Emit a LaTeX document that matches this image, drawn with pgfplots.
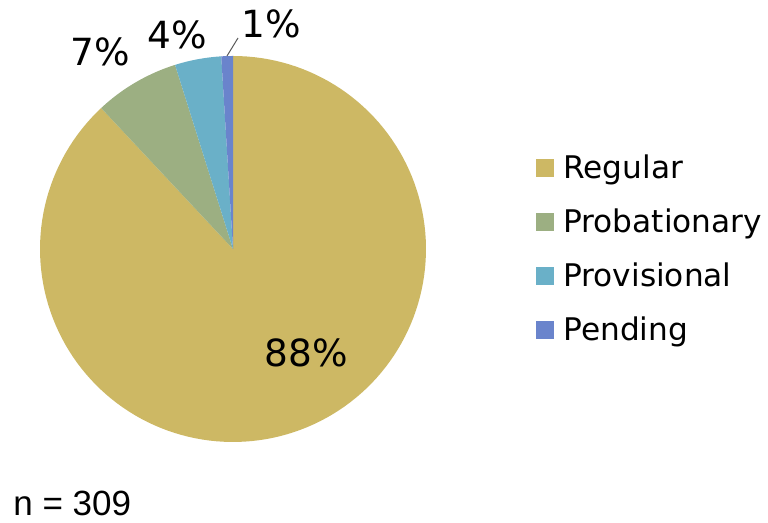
\documentclass[border=0pt]{standalone}
\usepackage{fontspec}
\setmainfont{DejaVu Sans}
\newfontfamily\arialfont{Liberation Sans}
\usepackage{pgfplots}
\pgfplotsset{compat=1.18}
\definecolor{cReg}{RGB}{205,184,100}
\definecolor{cProb}{RGB}{156,175,130}
\definecolor{cProv}{RGB}{106,176,200}
\definecolor{cPend}{RGB}{106,132,204}
% counts (n = 309)
\def\vReg{272}
\def\vProb{22}
\def\vProv{12}
\def\vPend{3}
\pgfmathsetmacro{\tot}{\vReg+\vProb+\vProv+\vPend}
\pgfmathsetmacro{\aZ}{90}
\pgfmathsetmacro{\aPend}{\aZ+\vPend/\tot*360}
\pgfmathsetmacro{\aProv}{\aPend+\vProv/\tot*360}
\pgfmathsetmacro{\aProb}{\aProv+\vProb/\tot*360}
\pgfmathsetmacro{\aReg}{\aProb+\vReg/\tot*360}
\newcommand\legtxt{\fontsize{15.6}{18}\selectfont}
\newcommand\pcttxt{\fontsize{18.7}{22}\selectfont}
\begin{document}
\begin{tikzpicture}
\begin{axis}[width=384pt,height=261.5pt,scale only axis,hide axis,
  xmin=0,xmax=768,ymin=0,ymax=523,clip=false]
\path (axis cs:0,0) rectangle (axis cs:768,523);
\addplot[fill=cReg,draw=none,domain=\aProb:\aReg,samples=150,variable=\t]
  ({233+193*cos(\t)},{274+193*sin(\t)}) -- (axis cs:233,274) -- cycle;
\addplot[fill=cProb,draw=none,domain=\aProv:\aProb,samples=30,variable=\t]
  ({233+193*cos(\t)},{274+193*sin(\t)}) -- (axis cs:233,274) -- cycle;
\addplot[fill=cProv,draw=none,domain=\aPend:\aProv,samples=20,variable=\t]
  ({233+193*cos(\t)},{274+193*sin(\t)}) -- (axis cs:233,274) -- cycle;
\addplot[fill=cPend,draw=none,domain=\aZ:\aPend,samples=10,variable=\t]
  ({233+193*cos(\t)},{274+193*sin(\t)}) -- (axis cs:233,274) -- cycle;
% leader line
\addplot[gray!70!black,line width=0.5pt] coordinates {(227,467) (238,485)};
% percentage labels
\node[font=\pcttxt,inner sep=0pt] at (axis cs:306,170) {88\%};
\node[font=\pcttxt,inner sep=0pt] at (axis cs:100,471) {7\%};
\node[font=\pcttxt,inner sep=0pt] at (axis cs:177,488) {4\%};
\node[font=\pcttxt,inner sep=0pt] at (axis cs:271,499) {1\%};
% legend
\node[fill=cReg,minimum size=9pt,inner sep=0pt] at (axis cs:545,355) {};
\node[anchor=base west,inner sep=0pt,font=\legtxt] at (axis cs:563,344) {Regular};
\node[fill=cProb,minimum size=9pt,inner sep=0pt] at (axis cs:545,301) {};
\node[anchor=base west,inner sep=0pt,font=\legtxt] at (axis cs:563,290) {Probationary};
\node[fill=cProv,minimum size=9pt,inner sep=0pt] at (axis cs:545,247) {};
\node[anchor=base west,inner sep=0pt,font=\legtxt] at (axis cs:563,236) {Provisional};
\node[fill=cPend,minimum size=9pt,inner sep=0pt] at (axis cs:545,193) {};
\node[anchor=base west,inner sep=0pt,font=\legtxt] at (axis cs:563,182) {Pending};
\node[anchor=base west,inner sep=0pt,font=\arialfont\fontsize{17.5}{20}\selectfont] at (axis cs:13,7) {n = 309};
\end{axis}
\end{tikzpicture}
\end{document}
